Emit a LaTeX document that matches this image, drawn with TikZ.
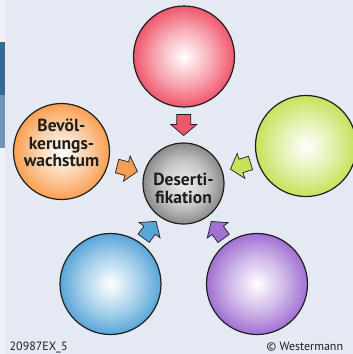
\documentclass[tikz,border=0pt]{standalone}
\usepackage{fontspec}
\setmainfont{PT Sans}
\usetikzlibrary{calc}

\definecolor{bgmain}{HTML}{E5E9F4}
\definecolor{bgstrip}{HTML}{EEF1F8}
\definecolor{bardark}{HTML}{336A96}
\definecolor{barlight}{HTML}{7393B8}
\definecolor{cred}{HTML}{F0566C}
\definecolor{corange}{HTML}{F99E50}
\definecolor{cgreen}{HTML}{C4E35A}
\definecolor{cblue}{HTML}{58A6D8}
\definecolor{cpurple}{HTML}{A070D2}
\definecolor{cgray}{HTML}{8A8A8A}
\definecolor{ink}{HTML}{1E1E1E}

% radial shading: white core, soft middle, full colour at the rim
\newcommand\declareball[1]{%
  \pgfdeclareradialshading{ball-#1}{\pgfpoint{0bp}{0bp}}{%
    color(0bp)=(white); color(14bp)=(#1!52!white);
    color(25bp)=(#1); color(50bp)=(#1)}}
\declareball{cred}\declareball{corange}\declareball{cgreen}
\declareball{cblue}\declareball{cpurple}
\pgfdeclareradialshading{ball-cgray}{\pgfpoint{0bp}{0bp}}{%
  color(0bp)=(white!94!black); color(14bp)=(white!78!black);
  color(25bp)=(cgray); color(50bp)=(cgray)}

\tikzset{
  ball/.style 2 args={circle, draw=ink, line width=1.2pt, inner sep=0pt,
    minimum size=#1, shading=ball-#2},
  blockarr/.pic={
    \filldraw[draw=ink, line width=0.7pt, fill=#1, line join=miter]
      (-10.5,-7) -- (-0.5,-7) -- (-0.5,-13) -- (10.5,0)
      -- (-0.5,13) -- (-0.5,7) -- (-10.5,7) -- cycle;},
  label/.style={font=\bfseries\fontsize{17.5}{17.5}\selectfont, text=ink,
    align=center, inner sep=0pt},
  footer/.style={font=\fontsize{12}{13}\selectfont, text=ink, inner sep=0pt}
}

\begin{document}
\begin{tikzpicture}[x=1pt,y=-1pt]
  % background and the left-hand margin bar
  \fill[bgmain] (0,0) rectangle (353,354);
  \fill[bgstrip] (0,0) rectangle (5,354);
  \fill[bardark] (0,42) rectangle (5,95);
  \fill[barlight] (0,95) rectangle (5,148);
  \useasboundingbox (0,0) rectangle (353,354);

  % central topic (base anchor = baseline of the last line)
  \node[ball={81pt}{cgray}] (centre) at (183.5,183.5) {};
  \node[label, anchor=base] (centretext) at (183.5,203.3)
    {\baselineskip=19pt Deserti-\\fikation};

  % surrounding factors
  \node[ball={101pt}{cred}]    (red)    at (184,56.5) {};
  \node[ball={101pt}{cgreen}]  (green)  at (306,146) {};
  \node[ball={96pt}{corange}]  (orange) at (61.5,151.5) {};
  \node[ball={101pt}{cblue}]   (blue)   at (110.5,284) {};
  \node[ball={101pt}{cpurple}] (purple) at (257,284) {};

  \node[label, anchor=base] (orangetext) at (61.5,166.7)
    {\baselineskip=17.5pt Bevöl-\\kerungs-\\wachstum};

  % block arrows from each factor towards the centre
  \foreach \src/\col/\d in {red/cred/68.5, green/cgreen/68.5,
      orange/corange/68, blue/cblue/67, purple/cpurple/67}{
    \path let \p1=($(centre)-(\src)$), \n1={atan2(\y1,\x1)} in
      pic[rotate=\n1] at ($(\src.center)!\d pt!(centre.center)$)
        {blockarr=\col};
  }

  % credits
  \node[footer, anchor=base west] (code) at (9.5,350.5) {20987EX\_5};
  \node[footer, anchor=base west] (copy) at (266.5,350.5) {© Westermann};
\end{tikzpicture}
\end{document}
